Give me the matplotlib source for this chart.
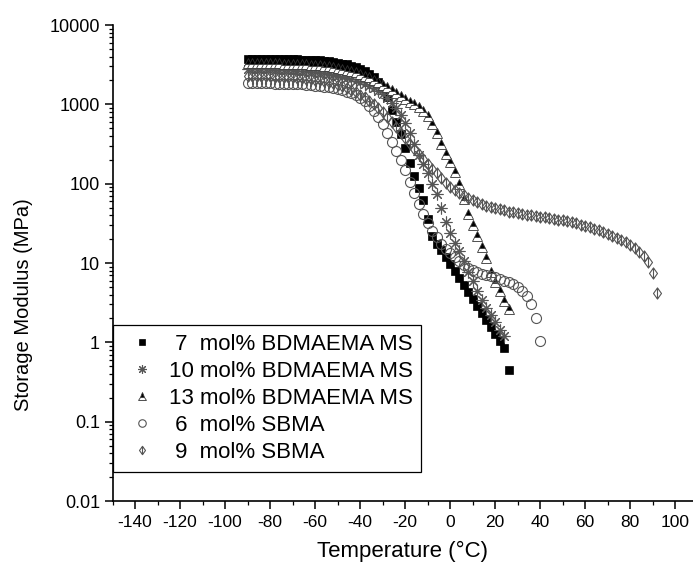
"""
Storage modulus vs temperature (DMA) for BDMAEMA MS and SBMA copolymers.
Values read off the reference figure on a 2 degC grid.
"""

import matplotlib
matplotlib.use("Agg")
import matplotlib.pyplot as plt
from matplotlib.path import Path
from matplotlib.ticker import MultipleLocator, LogLocator, FuncFormatter, NullFormatter

plt.rcParams["font.family"] = ["Liberation Sans", "DejaVu Sans"]
plt.rcParams["axes.unicode_minus"] = False

# --------------------------------------------------------------------------- #
# Data (temperature grid shared by all series; each series uses the first n)
# --------------------------------------------------------------------------- #
temp_c = [-90, -88, -86, -84, -82, -80, -78, -76, -74, -72,
          -70, -68, -66, -64, -62, -60, -58, -56, -54, -52,
          -50, -48, -46, -44, -42, -40, -38, -36, -34, -32,
          -30, -28, -26, -24, -22, -20, -18, -16, -14, -12,
          -10, -8, -6, -4, -2, 0, 2, 4, 6, 8,
          10, 12, 14, 16, 18, 20, 22, 24, 26, 28,
          30, 32, 34, 36, 38, 40, 42, 44, 46, 48,
          50, 52, 54, 56, 58, 60, 62, 64, 66, 68,
          70, 72, 74, 76, 78, 80, 82, 84, 86, 88,
          90, 92]

# 7 mol% BDMAEMA MS  (-90 .. 26)
bd7 = [3750, 3760, 3760, 3760, 3750, 3750, 3740, 3730, 3720, 3710,
       3700, 3690, 3670, 3650, 3630, 3600, 3570, 3530, 3480, 3420,
       3350, 3270, 3180, 3070, 2950, 2800, 2630, 2420, 2180, 1900,
       1600, 1250, 860, 600, 420, 280, 180, 125, 88, 62,
       36, 21.6, 17.6, 14.4, 11.8, 9.6, 7.9, 6.4, 5.3, 4.3,
       3.5, 2.9, 2.35, 1.92, 1.57, 1.28, 1.05, 0.86, 0.45]

# 10 mol% BDMAEMA MS  (-90 .. 24)
bd10 = [2750, 2760, 2760, 2760, 2750, 2750, 2740, 2730, 2720, 2700,
        2680, 2660, 2640, 2610, 2580, 2540, 2500, 2450, 2400, 2340,
        2280, 2210, 2140, 2060, 1980, 1890, 1800, 1700, 1590, 1470,
        1340, 1200, 1050, 900, 740, 590, 440, 320, 230, 175,
        135, 100, 74, 50, 33, 24, 18, 14, 10.5, 7.6,
        5.9, 4.4, 3.4, 2.7, 2.2, 1.8, 1.45, 1.2]

# 13 mol% BDMAEMA MS  (-90 .. 26)
bd13 = [3300, 3310, 3310, 3310, 3300, 3300, 3290, 3280, 3270, 3260,
        3250, 3230, 3210, 3190, 3170, 3140, 3100, 3060, 3010, 2950,
        2880, 2800, 2720, 2630, 2530, 2420, 2300, 2180, 2050, 1910,
        1770, 1630, 1500, 1380, 1270, 1170, 1080, 1000, 920, 830,
        710, 560, 430, 320, 240, 185, 140, 100, 64, 42,
        30, 22, 16, 11.5, 7.8, 5.8, 4.4, 3.3, 2.6]

# 6 mol% SBMA  (-90 .. 40)
sb6 = [1850, 1850, 1850, 1845, 1840, 1840, 1830, 1825, 1820, 1810,
       1800, 1790, 1780, 1760, 1740, 1720, 1700, 1670, 1640, 1600,
       1560, 1510, 1450, 1380, 1300, 1200, 1090, 960, 820, 690,
       560, 440, 340, 260, 200, 150, 105, 76, 56, 42,
       32, 25.5, 21, 17.5, 15, 13.2, 11.8, 10.5, 9.5, 8.7,
       8.1, 7.6, 7.3, 7.0, 6.8, 6.6, 6.3, 6.0, 5.7, 5.4,
       5.0, 4.5, 3.8, 3.0, 2.0, 1.05]

# 9 mol% SBMA  (-90 .. 92)
sb9 = [2250, 2260, 2260, 2260, 2250, 2250, 2240, 2230, 2220, 2200,
       2180, 2160, 2140, 2110, 2080, 2040, 2000, 1950, 1900, 1840,
       1770, 1700, 1620, 1530, 1430, 1330, 1220, 1110, 1000, 890,
       790, 690, 600, 515, 440, 375, 320, 272, 235, 203,
       178, 155, 135, 117, 103, 92, 84, 77, 71, 66,
       62, 58.5, 55.5, 53, 51, 49, 47.5, 46, 44.5, 43.5,
       42.5, 41.5, 40.5, 39.8, 39, 38.2, 37.5, 36.8, 36, 35.2,
       34.4, 33.5, 32.5, 31.5, 30.5, 29.4, 28.2, 27, 25.8, 24.5,
       23.2, 22, 20.8, 19.5, 18.2, 16.8, 15.3, 13.8, 12.2, 10.2,
       7.4, 4.2]

labels = [" 7  mol% BDMAEMA MS",
          "10 mol% BDMAEMA MS",
          "13 mol% BDMAEMA MS",
          " 6  mol% SBMA",
          " 9  mol% SBMA"]

# diamond with a vertical bar through it
diamond_bar = Path(
    [(0, 1), (0.72, 0), (0, -1), (-0.72, 0), (0, 1), (0, 1), (0, -1)],
    [Path.MOVETO, Path.LINETO, Path.LINETO, Path.LINETO, Path.CLOSEPOLY,
     Path.MOVETO, Path.LINETO])

W, H = 693, 566
fig = plt.figure(figsize=(W / 100, H / 100), dpi=100)
ax = fig.add_axes([112.5 / W, 1 - 501 / H, 1 - 112.5 / W, 476 / H])


def series(vals):
    return temp_c[:len(vals)], vals


handles = []
t, e = series(bd7)
handles += ax.plot(t, e, ls="none", marker="s", ms=5.4, mfc="black",
                   mec="black", mew=0.5)
t, e = series(bd10)
handles += ax.plot(t, e, ls="none", marker=(8, 2, 0), ms=8.5, color="#555555",
                   mew=0.8)
t, e = series(bd13)
handles += ax.plot(t, e, ls="none", marker="^", ms=7, fillstyle="top",
                   mfc="black", mfcalt="white", mec="#333333", mew=0.6)
t, e = series(sb6)
handles += ax.plot(t, e, ls="none", marker="o", ms=7.2, mfc="none",
                   mec="#555555", mew=0.8)
t, e = series(sb9)
handles += ax.plot(t, e, ls="none", marker=diamond_bar, ms=8, mfc="none",
                   mec="#555555", mew=0.8)

# --------------------------------------------------------------------------- #
# Axes styling
# --------------------------------------------------------------------------- #
ax.set_yscale("log")
ax.set_xlim(-150, 108)
ax.set_ylim(0.01, 10000)

ax.spines["top"].set_visible(False)
ax.spines["right"].set_visible(False)
for s in ("left", "bottom"):
    ax.spines[s].set_linewidth(1.2)

ax.xaxis.set_major_locator(MultipleLocator(20))
ax.xaxis.set_minor_locator(MultipleLocator(10))
ax.yaxis.set_major_locator(LogLocator(base=10, numticks=10))
ax.yaxis.set_minor_locator(LogLocator(base=10, subs=range(2, 10), numticks=100))
ax.yaxis.set_major_formatter(FuncFormatter(lambda v, p: f"{v:g}"))
ax.yaxis.set_minor_formatter(NullFormatter())

ax.tick_params(which="major", direction="out", length=6, width=1.1, pad=3)
ax.tick_params(which="minor", direction="out", length=3, width=0.9)
ax.tick_params(axis="y", labelsize=13)
ax.tick_params(axis="x", labelsize=12.5, pad=4)

ax.set_xlabel("Temperature (°C)", fontsize=16, labelpad=8)
ax.set_ylabel("Storage Modulus (MPa)", fontsize=14.5)
ax.yaxis.set_label_coords(-0.137, 0.412)

leg = ax.legend(handles, labels, loc="lower left",
                bbox_to_anchor=(0.001, 0.061), borderaxespad=0,
                fancybox=False, edgecolor="black", framealpha=1,
                fontsize=16, handlelength=1.8, handletextpad=0.3,
                labelspacing=0.275, borderpad=0.4, markerscale=0.75)
leg.get_frame().set_linewidth(0.9)

fig.savefig("out.png", dpi=100)
